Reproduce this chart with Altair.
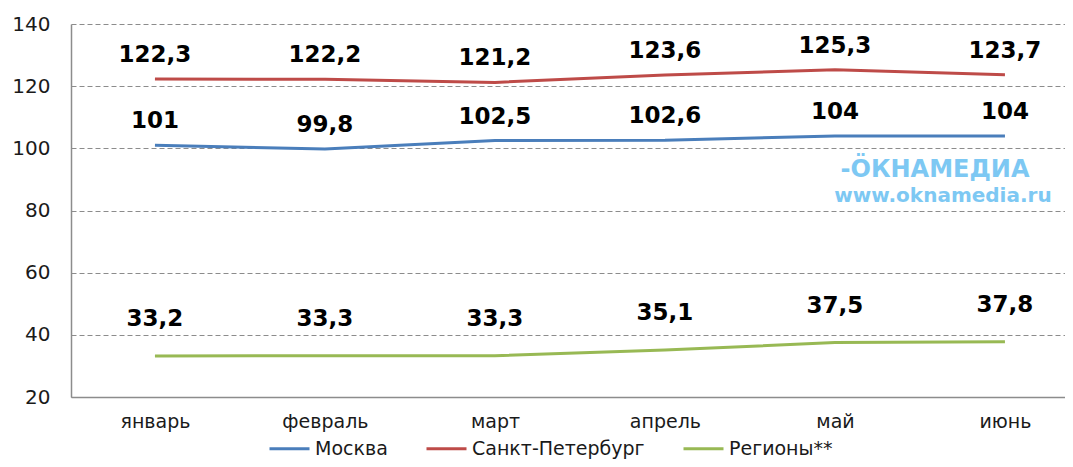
import altair as alt
import pandas as pd

months = ["январь", "февраль", "март", "апрель", "май", "июнь"]
moscow = [101, 99.8, 102.5, 102.6, 104, 104]
spb = [122.3, 122.2, 121.2, 123.6, 125.3, 123.7]
regions = [33.2, 33.3, 33.3, 35.1, 37.5, 37.8]
series_names = ["Москва", "Санкт-Петербург", "Регионы**"]
series_colors = ["#4A7EBB", "#BE4B48", "#98B954"]
y_ticks = [20, 40, 60, 80, 100, 120, 140]
watermark = ["-ÖКНАМЕДИА", "www.oknamedia.ru"]

rows = []
for name, vals in zip(series_names, [moscow, spb, regions]):
    for m, v in zip(months, vals):
        rows.append({"month": m, "series": name, "value": v,
                     "label": f"{v:g}".replace(".", ",")})
df = pd.DataFrame(rows)

FONT = "DejaVu Sans"
GRAY = "#8c8c8c"

x = alt.X("month:N", sort=months,
          scale=alt.Scale(type="point", padding=0.4235, align=0.583),
          axis=alt.Axis(title=None, labelAngle=0, ticks=False, grid=False,
                        domainColor=GRAY, domainWidth=1.5, labelPadding=15,
                        labelFontSize=19, labelFont=FONT, labelColor="#1a1a1a"))
y = alt.Y("value:Q",
          scale=alt.Scale(domain=[20, 140], nice=False, zero=False),
          axis=alt.Axis(title=None, values=y_ticks, ticks=False, grid=True,
                        gridDash=[5, 3], gridColor=GRAY, gridWidth=1,
                        domainColor=GRAY, domainWidth=1.5, labelPadding=21,
                        labelFontSize=20, labelFont=FONT, labelColor="#1a1a1a"))

lines = alt.Chart(df).mark_line(strokeWidth=3).encode(
    x=x, y=y,
    color=alt.Color("series:N",
                    scale=alt.Scale(domain=series_names, range=series_colors),
                    legend=alt.Legend(title=None, orient="none", direction="horizontal",
                                      legendX=197, legendY=403,
                                      symbolType="stroke", symbolSize=1600,
                                      symbolStrokeWidth=3, labelOffset=4,
                                      columnPadding=32, labelFontSize=19,
                                      labelLimit=400,
                                      labelFont=FONT, labelColor="#1a1a1a")),
)

labels_top = alt.Chart(df).transform_filter(
    alt.FieldOneOfPredicate(field="series", oneOf=series_names[:2])
).mark_text(fontSize=23, fontWeight="bold", font=FONT, color="black", dy=-24).encode(
    x=alt.X("month:N", sort=months), y="value:Q", text="label:N")

labels_reg = alt.Chart(df).transform_filter(
    alt.FieldEqualPredicate(field="series", equal=series_names[2])
).mark_text(fontSize=23, fontWeight="bold", font=FONT, color="black", dy=-37).encode(
    x=alt.X("month:N", sort=months), y="value:Q", text="label:N")

wm_df = pd.DataFrame({"t": watermark, "row": [0, 1]})
wm1 = alt.Chart(wm_df).transform_filter("datum.row == 0").mark_text(
    fontSize=24, fontWeight="bold", font=FONT, color="#7DC8F3"
).encode(text="t:N", x=alt.value(864), y=alt.value(146))
wm2 = alt.Chart(wm_df).transform_filter("datum.row == 1").mark_text(
    fontSize=20, fontWeight="bold", font=FONT, color="#7DC8F3"
).encode(text="t:N", x=alt.value(872), y=alt.value(172))

chart = alt.layer(lines, labels_top, labels_reg, wm1, wm2).properties(
    width=994, height=373,
    autosize=alt.AutoSizeParams(type="none"),
    padding={"left": 63, "top": 16, "right": 0, "bottom": 62},
    background="white",
).configure_view(stroke=None)

chart.save("out.html", embed_options={"renderer": "svg", "actions": False})
